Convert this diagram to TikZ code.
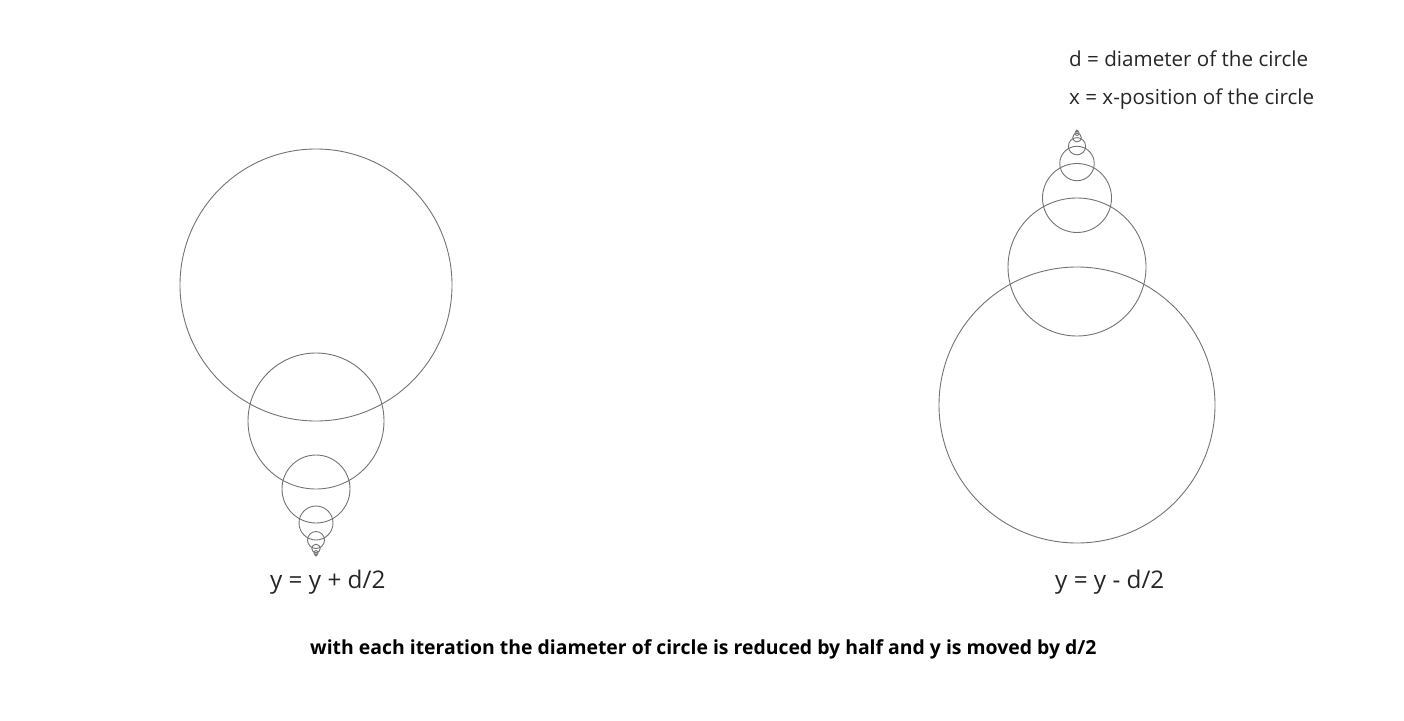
\documentclass[tikz,border=0pt]{standalone}
\usepackage{fontspec}
\setmainfont{Open Sans}
\tikzset{
  ring/.style={circle, draw=black!55, line width=0.9pt, inner sep=0pt},
  formula/.style={anchor=base west, inner sep=0pt, text=black!85,
    font=\fontsize{24.3}{28}\selectfont},
  legend/.style={anchor=base west, inner sep=0pt, text=black!85,
    font=\fontsize{20.6}{24}\selectfont},
}
\begin{document}
\begin{tikzpicture}[x=1pt,y=-1pt]
  \useasboundingbox (0,0) rectangle (1404,720);
  % left stack: y = y + d/2
  \node[ring, minimum size=272] (down0) at (316,285) {};
  \node[ring, minimum size=136] (down1) at (316,421) {};
  \node[ring, minimum size=68] (down2) at (316,489) {};
  \node[ring, minimum size=34] (down3) at (316,523) {};
  \node[ring, minimum size=17] (down4) at (316,540) {};
  \node[ring, minimum size=8.5] (down5) at (316,548.5) {};
  \node[ring, minimum size=4.25] (down6) at (316,552.75) {};
  \node[ring, minimum size=2.1] (down7) at (316,554.9) {};
  % right stack: y = y - d/2
  \node[ring, minimum size=276] (up0) at (1077,405) {};
  \node[ring, minimum size=138] (up1) at (1077,267) {};
  \node[ring, minimum size=69] (up2) at (1077,198) {};
  \node[ring, minimum size=34.5] (up3) at (1077,163.5) {};
  \node[ring, minimum size=17.25] (up4) at (1077,146.25) {};
  \node[ring, minimum size=8.6] (up5) at (1077,137.6) {};
  \node[ring, minimum size=4.3] (up6) at (1077,133.3) {};
  \node[ring, minimum size=2.2] (up7) at (1077,131.2) {};
  % labels
  \node[legend] (dlabel) at (1069,66) {d = diameter of the circle};
  \node[legend] (xlabel) at (1069,104) {x = x-position of the circle};
  \node[formula] (downrule) at (270,588) {y = y + d/2};
  \node[formula] (uprule) at (1055,588) {y = y - d/2};
  \node[anchor=base west, inner sep=0pt, text=black,
    font=\fontsize{19.4}{23}\selectfont\bfseries] (caption) at (310,654)
    {with each iteration the diameter of circle is reduced by half and y is moved by d/2};
\end{tikzpicture}
\end{document}
